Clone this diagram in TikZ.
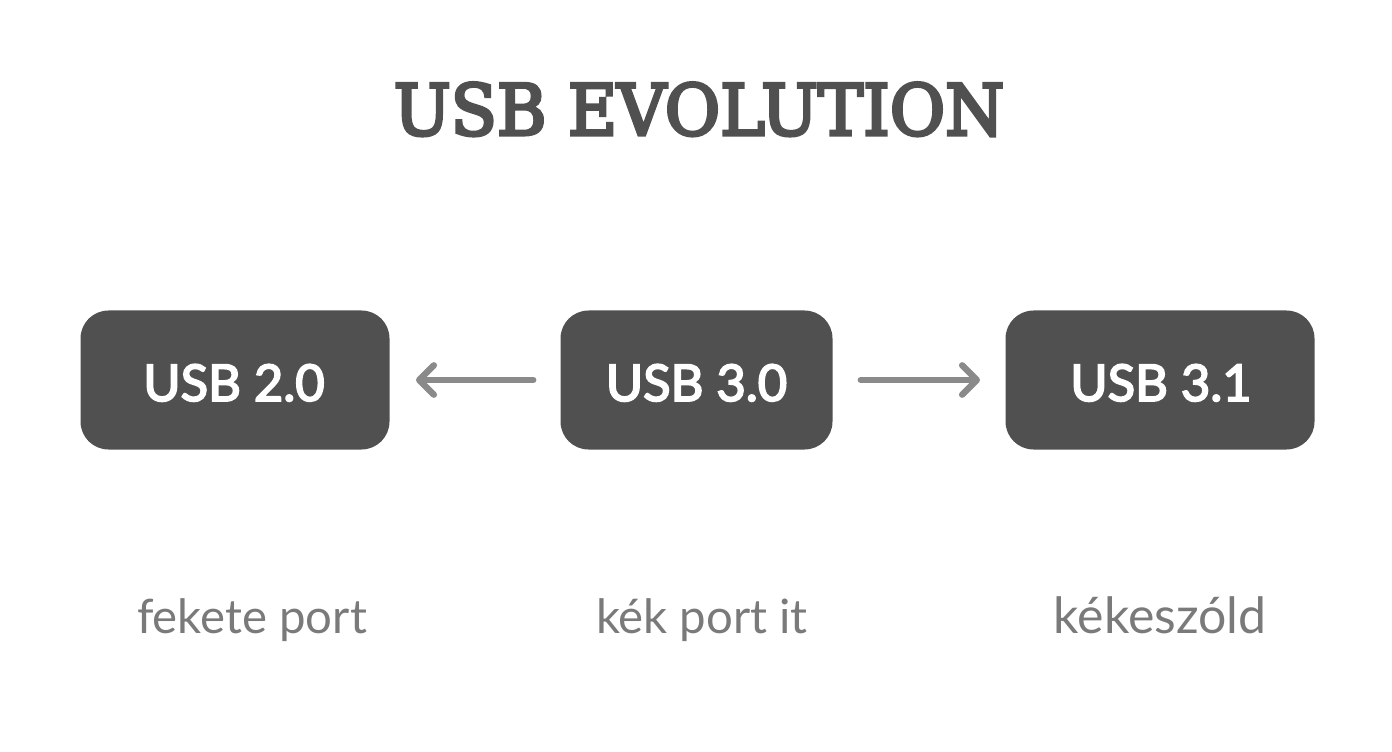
\documentclass[tikz,border=0pt]{standalone}
\usepackage{fontspec}
\setmainfont{Lato}
\newfontfamily\titlefont[FakeStretch=0.955,FakeBold=4.5]{DejaVu Serif}
\newfontfamily\boxfont[FakeBold=3.5]{Lato}
\usetikzlibrary{arrows.meta}
\definecolor{boxc}{HTML}{505050}
\definecolor{arrowc}{HTML}{8A8A8A}
\definecolor{labelc}{HTML}{7A7A7A}
\definecolor{titlec}{HTML}{505050}
\tikzset{
  px/.style={x=0.75pt,y=-0.75pt},
  portbox/.style={fill=boxc,rounded corners=21pt,minimum height=104.25pt,inner sep=0pt},
  boxtext/.style={text=white,font=\boxfont\fontsize{38}{40}\selectfont,inner sep=0pt,anchor=base},
  conn/.style={draw=arrowc,line width=4.8pt,line cap=round,line join=round,-{Straight Barb[length=11pt,width=22pt,line width=4.8pt,round]}},
  caption/.style={text=labelc,font=\fontsize{35.5}{40}\selectfont,inner sep=0pt,anchor=base}
}
\begin{document}
\begin{tikzpicture}[px]
\useasboundingbox (0,0) rectangle (1392,752);
\fill[white] (0,0) rectangle (1392,752);
\node[text=titlec,font=\titlefont\fontsize{53}{60}\selectfont,inner sep=0pt,anchor=base] (title) at (699,135) {USB EVOLUTION};
\node[portbox,minimum width=231.75pt] (a) at (235,380) {};
\node[portbox,minimum width=204pt] (b) at (696.5,380) {};
\node[portbox,minimum width=231.75pt] (c) at (1160,380) {};
\node[boxtext] (ta) at (234,401) {USB 2.0};
\node[boxtext] (tb) at (696.5,401) {USB 3.0};
\node[boxtext] (tc) at (1161,401) {USB 3.1};
\coordinate (al) at (416,380);
\coordinate (ar) at (980,380);
\draw[conn] (b.west) ++(-27,0) -- (al);
\draw[conn] (b.east) ++(28,0) -- (ar);
\node[caption] (la) at (252,633) {fekete port};
\node[caption] (lb) at (702,633) {kék port it};
\node[caption,font=\fontsize{37.5}{40}\selectfont] (lc) at (1160,633) {kékeszóld};
\end{tikzpicture}
\end{document}
